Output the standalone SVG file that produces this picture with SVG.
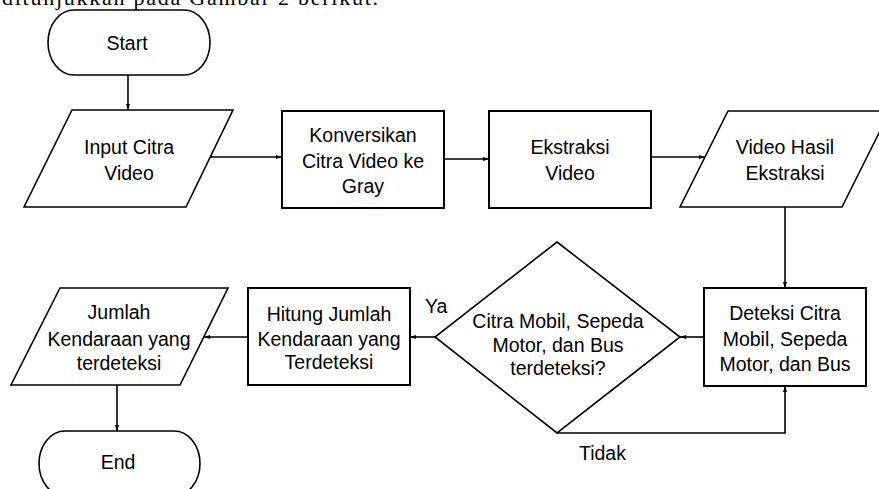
<svg xmlns="http://www.w3.org/2000/svg" width="879" height="489" viewBox="0 0 879 489">
<defs>
<marker id="ah" markerUnits="userSpaceOnUse" markerWidth="8" markerHeight="8" viewBox="0 0 8 8" refX="7" refY="4" orient="auto">
<path d="M1,2 L7,4 L1,6 Z" fill="#000"/>
</marker>
<style>
.s{fill:#fff;stroke:#000;stroke-width:1.6}
.r{fill:#fff;stroke:#000;stroke-width:2}
.t{font-family:"Liberation Sans",Arial,sans-serif;font-size:19.5px;fill:#000;text-anchor:middle}
.c{fill:none;stroke:#000;stroke-width:1.6;marker-end:url(#ah)}
.cl{fill:none;stroke:#000;stroke-width:1.6}
.lb{font-family:"Liberation Sans",Arial,sans-serif;font-size:19.5px;fill:#000}
.p{font-family:"Liberation Serif","Times New Roman",serif;font-size:22px;fill:#000}
</style>
</defs>
<rect width="879" height="489" fill="#fff"/>
<text class="p" x="2" y="5" textLength="376" lengthAdjust="spacing">ditunjukkan pada Gambar 2 berikut.</text>

<g id="connectors">
<path class="c" d="M128,75 V110"/>
<path class="c" d="M210,157 H282"/>
<path class="c" d="M444,159 H489"/>
<path class="c" d="M651,157 H705"/>
<path class="c" d="M785,207 V288"/>
<path class="c" d="M704,337 H680"/>
<path class="c" d="M557,433 H785 V386"/>
<path class="c" d="M435,337 H410"/>
<path class="c" d="M248,337 H204"/>
<path class="c" d="M117,385 V431"/>
<text class="lb" x="425" y="313">Ya</text>
<text class="lb" x="579" y="460">Tidak</text>
</g>

<g id="start">
<path class="s" d="M74,10 H184 A26,32.5 0 0 1 184,75 H74 A26,32.5 0 0 1 74,10 Z"/>
<text class="t" x="127" y="50">Start</text>
</g>

<g id="input">
<polygon class="s" points="72,110 233,110 186,207 24,207"/>
<text class="t" x="129" y="154">Input Citra</text>
<text class="t" x="129" y="180">Video</text>
</g>

<g id="konversi">
<rect class="r" x="282" y="111" width="162" height="97"/>
<text class="t" x="363" y="142">Konversikan</text>
<text class="t" x="363" y="168">Citra Video ke</text>
<text class="t" x="363" y="193">Gray</text>
</g>

<g id="ekstraksi">
<rect class="r" x="489" y="111" width="162" height="97"/>
<text class="t" x="570" y="154">Ekstraksi</text>
<text class="t" x="570" y="180">Video</text>
</g>

<g id="video-hasil">
<polygon class="s" points="728,111 890,111 842,207 680,207"/>
<text class="t" x="785" y="154">Video Hasil</text>
<text class="t" x="785" y="180">Ekstraksi</text>
</g>

<g id="deteksi">
<rect class="r" x="704" y="288" width="162" height="98"/>
<text class="t" x="785" y="320">Deteksi Citra</text>
<text class="t" x="785" y="346">Mobil, Sepeda</text>
<text class="t" x="785" y="371">Motor, dan Bus</text>
</g>

<g id="keputusan">
<polygon class="s" points="557,242 680,337 557,433 435,337"/>
<text class="t" x="558" y="328">Citra Mobil, Sepeda</text>
<text class="t" x="558" y="352">Motor, dan Bus</text>
<text class="t" x="558" y="375">terdeteksi?</text>
</g>

<g id="hitung">
<rect class="r" x="248" y="288" width="162" height="97"/>
<text class="t" x="329" y="321">Hitung Jumlah</text>
<text class="t" x="329" y="346">Kendaraan yang</text>
<text class="t" x="329" y="369">Terdeteksi</text>
</g>

<g id="jumlah">
<polygon class="s" points="60,288 228,288 180,385 11,385"/>
<text class="t" x="119" y="319">Jumlah</text>
<text class="t" x="119" y="346">Kendaraan yang</text>
<text class="t" x="119" y="370">terdeteksi</text>
</g>

<g id="end">
<path class="s" d="M65,431 H174 A26,32.5 0 0 1 174,496 H65 A26,32.5 0 0 1 65,431 Z"/>
<text class="t" x="118" y="469">End</text>
</g>
</svg>
